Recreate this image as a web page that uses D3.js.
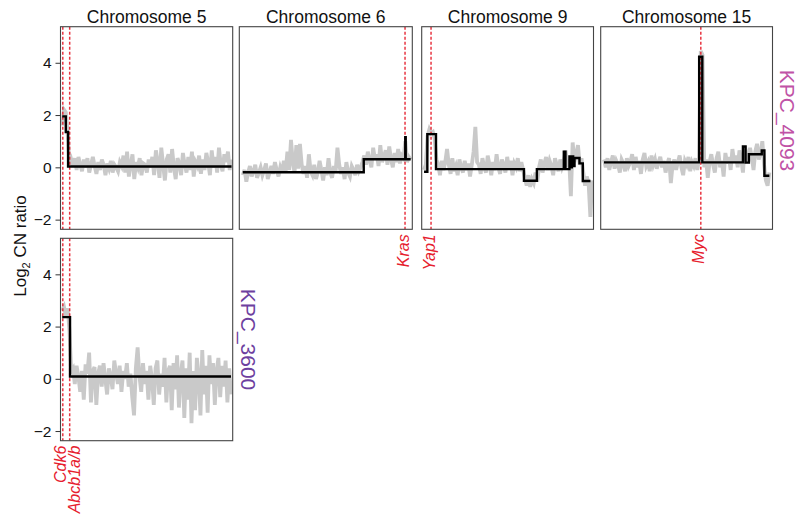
<!DOCTYPE html>
<html><head><meta charset="utf-8">
<script src="https://cdn.jsdelivr.net/npm/d3@7"></script>
<style>body{margin:0;background:#fff}svg{display:block}</style>
</head><body><svg id="c" width="801" height="525"></svg>
<script>
// ---------------- data ----------------
const chromosomes = ["Chromosome 5", "Chromosome 6", "Chromosome 9", "Chromosome 15"];
const chromLengthMb = [150, 150, 125, 104];
const samples = ["KPC_4093", "KPC_3600"];
const yTicks = [-2, 0, 2, 4];

// binned log2 CN ratios (gray), first/last bin position in Mb
const range_4093_chr5 = [1.5, 149];
const cn_4093_chr5 = [1.6, 2.2, 2.1, 1.3, 0.1,
  0.3, 0.05, 0.35, -0.1, 0.4, 0.1, -0.15, 0.3, 0.0, 0.35, -0.2, 0.1, 0.4, 0.05, -0.25, 0.2, -0.1, 0.3, 0.1, -0.3, 0.15, -0.05, 0.25, -0.2, 0.1, 0.0, -0.15, 0.2,
  0.05, 0.45, -0.2, 0.6, -0.35, 0.1, 0.5, -0.45, 0.2, 0.0, 0.35, -0.3, 0.15, 0.1, -0.2, 0.3, 0.0,
  0.4, -0.3, 0.65, 0.2, -0.4, 0.75, 0.1, -0.5, 0.3, 0.5, -0.2, 0.7, 0.0, -0.45, 0.35, 0.15, -0.3, 0.55, 0.1, -0.2, 0.4, -0.1, 0.6, -0.35, 0.2, 0.05, 0.45, -0.25,
  0.3, -0.1, 0.55, 0.2, -0.3, 0.65, 0.0, 0.4, -0.2, 0.75, 0.1, -0.15, 0.5, 0.2, 0.6, -0.1, 0.3];

const range_4093_chr6 = [3.0, 148.6];
const cn_4093_chr6 = [-0.3, -0.1, -0.55, -0.2, 0.05, -0.35, -0.15, 0.1, -0.4, -0.2, 0.0, -0.3, -0.1, 0.15, -0.45, -0.2, 0.05, -0.25, 0.2, -0.1, -0.35, 0.0, -0.2, 0.25, -0.15,
  0.6, -0.1, 1.05, 0.2, -0.2, 0.85, -0.05, 0.9, 0.1,
  -0.25, 0.05, -0.4, 0.5, -0.15, -0.3, 0.1, -0.45, -0.2, 0.25, -0.1, -0.5, 0.0, -0.3, 0.35, -0.2, -0.4, 0.05, -0.15,
  0.75, 0.1,
  -0.25, 0.0, -0.45, 0.2, -0.2, -0.35, 0.05, -0.1, -0.3, 0.1, -0.15, 0.0,
  0.2, 0.45, 0.1, 0.6, 0.25, 0.0, 0.75, 0.3, 0.5, 0.05, 0.85, 0.2, 0.4, 0.65, 0.1, 0.8, 0.3, 0.0, 0.55, 0.2, 0.7, 0.15, 0.45, 0.35, 1.0, 0.2, 0.4, 0.3];

const range_4093_chr9 = [1.7, 124.0];
const cn_4093_chr9 = [-0.1, 0.1,
  1.2, 1.45, 1.3, 1.35, 1.1, 0.3,
  0.1, -0.3, 0.25, -0.1, 0.2, 0.7, 0.1, -0.25, 0.35, -0.15, 0.05, -0.3, 0.3, 0.0, -0.2, 0.25, -0.1, 0.15, -0.35, 0.1, 0.6, 1.55, 0.2,
  0.1, -0.25, 0.35, 0.0, -0.2, 0.45, 0.1, -0.3, 0.2, -0.1, 0.5, 0.0, -0.25, 0.3, 0.1, -0.2, 0.4, -0.05, 0.25, -0.3, 0.15, 0.0, 0.35, -0.15, 0.2, -0.1,
  -0.4, -0.7, -0.3, -0.75, -0.45, -0.6, -0.2, -0.55,
  0.0, 0.3, -0.2, 0.15, 0.4, -0.1, 0.25, 0.05, -0.3, 0.35, 0.1, -0.15, 0.3, 0.0, 0.2,
  0.65, 0.0, 0.3, -1.1, 0.95, 0.2, 0.5, 0.85, 0.1, 0.35, -0.2, -0.7, -0.35, -0.6, -1.9, -0.5];

const range_4093_chr15 = [2.0, 102.1];
const cn_4093_chr15 = [0.3, 0.0, 0.35, -0.1, 0.2, 0.45, -0.05, 0.25, 0.1, -0.2, 0.3, 0.15, -0.15, 0.35, 0.05, 0.2, 0.5, -0.1, 0.4, 0.0, 0.25, -0.25, 0.3, 0.55, 0.05, 0.2, -0.15, 0.45, 0.1, 0.3, -0.05, 0.2, 0.4, 0.0, 0.25, -0.2, 0.15, 0.35, -0.6, 0.1, 0.3, -0.1, 0.2, 0.45, 0.0, -0.3, 0.25, 0.1, 0.4, -0.15, 0.2, 0.05, 0.35, -0.1, 0.3,
  4.45, 4.3,
  0.0, 0.3, -0.4, 0.2, 0.5, 0.1, -0.2, 0.35, 0.6, 0.0, 0.25, -0.35, 0.55, 0.15, 0.4, -0.1, 0.7, 0.2, 0.45, 0.0, 0.65, 0.3, -0.2, 0.8, 0.5,
  0.2, 0.75, 0.4, -0.1, 0.6, 0.9, 0.3, 0.55, 1.0, 0.1, -0.5, -0.7, -0.2];

const range_3600_chr5 = [1.5, 148.5];
const cn_3600_chr5 = [2.6, 2.75, 2.4, 2.7, 1.9, 0.3,
  0.4, -0.2, 0.5, 0.1, -0.5, 0.3, -0.8, 0.55, 0.2, 1.0, -0.9, 0.3, 0.45, -1.0, 0.2,
  0.5, -0.3, 0.6, 0.0, -0.6, 0.4, 0.1, -0.4, 0.7, 0.2, -0.2, 0.5, -0.5, 0.3, 0.0, 0.6, -0.3, 0.2, -0.7, -1.4,
  0.4, 1.2, 0.1, -0.5, 0.6, -0.2, 0.3, -0.8, 0.5, 0.0, -1.0, 0.4, 0.7, -0.6, 0.2, -0.3, 0.8, -0.9, 0.3, 0.5,
  -1.2, 0.6, -0.4, 0.9, -1.1, 0.2, 0.7, -1.5, 0.4, -0.8, 1.0, -1.7, 0.3, -1.2, 0.8, 0.1, -1.4, 1.1, -0.6, 0.5, -1.3, 0.9, -0.2, 0.6, -1.0, 0.3, 0.8, -0.7, 0.5, -0.3, 0.7, -0.9, 0.4, -0.6];

// segmented calls (black): [start Mb, end Mb, log2 ratio]
const seg_4093_chr5 = [[1.5, 4.6, 1.95], [4.6, 6.6, 1.35], [6.6, 149, 0.03]];
const seg_4093_chr6 = [[3.0, 107.9, -0.19], [107.9, 143.9, 0.31], [143.9, 144.3, 1.15], [144.3, 148.6, 0.31]];
const seg_4093_chr9 = [[1.7, 4.1, -0.17], [4.1, 10.4, 1.27], [10.4, 74.4, -0.07], [74.4, 83.8, -0.51], [83.8, 103.4, -0.07],
  [103.4, 104.6, 0.6], [104.6, 107.5, -0.07], [107.5, 108.4, 0.42], [108.4, 109.2, 0.0], [109.2, 110.2, 0.42],
  [110.2, 111.2, 0.05], [111.2, 114.8, 0.36], [114.8, 117.2, 0.15], [117.2, 122.8, -0.52]];
const seg_4093_chr15 = [[2.0, 59.6, 0.19], [59.6, 61.5, 4.23], [61.5, 86.1, 0.19], [86.1, 87.7, 0.8], [87.7, 89.7, 0.18],
  [89.7, 97.5, 0.5], [97.5, 99.1, 0.65], [99.1, 102.1, -0.32]];
const seg_3600_chr5 = [[1.5, 8.3, 2.36], [8.3, 148.5, 0.09]];

// genes of interest
const geneNames = ["Cdk6", "Abcb1a/b", "Kras", "Yap1", "Myc"];
const geneChrom = ["Chromosome 5", "Chromosome 5", "Chromosome 6", "Chromosome 9", "Chromosome 15"];
const genePosMb = [2.0, 8.0, 143.7, 6.8, 60.6];

// ---------------- layout ----------------
const colX = [[60.5, 232.7], [239.3, 412.3], [421.7, 593.5], [600.7, 772.5]];
const rowY = [[26.7, 229.3], [238.3, 440.7]];
const yDomain = [-2.37, 5.38];
const sampleColor = ["#c052a6", "#6d3fa0"];
const red = "#e6202e";

const panels = [
  {row: 0, col: 0, cn: cn_4093_chr5, range: range_4093_chr5, seg: seg_4093_chr5},
  {row: 0, col: 1, cn: cn_4093_chr6, range: range_4093_chr6, seg: seg_4093_chr6},
  {row: 0, col: 2, cn: cn_4093_chr9, range: range_4093_chr9, seg: seg_4093_chr9},
  {row: 0, col: 3, cn: cn_4093_chr15, range: range_4093_chr15, seg: seg_4093_chr15},
  {row: 1, col: 0, cn: cn_3600_chr5, range: range_3600_chr5, seg: seg_3600_chr5}
];

const svg = d3.select("#c");
svg.append("rect").attr("width", 801).attr("height", 525).attr("fill", "#fff");
const font = "Liberation Sans, Arial, Helvetica, sans-serif";

panels.forEach((p, k) => {
  const x = d3.scaleLinear().domain([0, chromLengthMb[p.col]]).range(colX[p.col]);
  const y = d3.scaleLinear().domain(yDomain).range([rowY[p.row][1], rowY[p.row][0]]);
  const g = svg.append("g");
  const cid = "clip" + k;
  svg.append("clipPath").attr("id", cid).append("rect")
    .attr("x", colX[p.col][0]).attr("y", rowY[p.row][0])
    .attr("width", colX[p.col][1] - colX[p.col][0]).attr("height", rowY[p.row][1] - rowY[p.row][0]);
  const inner = g.append("g").attr("clip-path", `url(#${cid})`);

  const n = p.cn.length;
  const pts = p.cn.map((v, i) => [p.range[0] + i * (p.range[1] - p.range[0]) / (n - 1), v]);
  const line = d3.line().x(d => x(d[0])).y(d => y(d[1]));
  inner.append("path").attr("d", line(pts)).attr("fill", "none")
    .attr("stroke", "#c9c9c9").attr("stroke-width", 3.8).attr("stroke-linejoin", "miter");

  // gene lines
  const chromName = chromosomes[p.col];
  geneNames.forEach((gname, gi) => {
    if (geneChrom[gi] !== chromName) return;
    inner.append("line").attr("x1", x(genePosMb[gi])).attr("x2", x(genePosMb[gi]))
      .attr("y1", rowY[p.row][0]).attr("y2", rowY[p.row][1])
      .attr("stroke", red).attr("stroke-width", 1.5).attr("stroke-dasharray", "3,2").attr("opacity", 0.9);
  });

  const spts = [];
  p.seg.forEach(s => { spts.push([s[0], s[2]]); spts.push([s[1], s[2]]); });
  inner.append("path").attr("d", line(spts)).attr("fill", "none")
    .attr("stroke", "#000").attr("stroke-width", 2.4).attr("stroke-linejoin", "miter");

  g.append("rect").attr("x", colX[p.col][0]).attr("y", rowY[p.row][0])
    .attr("width", colX[p.col][1] - colX[p.col][0]).attr("height", rowY[p.row][1] - rowY[p.row][0])
    .attr("fill", "none").attr("stroke", "#444").attr("stroke-width", 1.1);

  if (p.col === 0) {
    const ax = g.append("g").attr("transform", `translate(${colX[0][0]},0)`)
      .call(d3.axisLeft(y).tickValues(yTicks).tickSize(5).tickPadding(4));
    ax.select(".domain").remove();
    ax.selectAll(".tick line").attr("stroke", "#333");
    ax.selectAll(".tick text").attr("font-size", 15.5).attr("font-family", font).attr("fill", "#111");
  }
  if (p.row === 0) {
    svg.append("text").attr("x", (colX[p.col][0] + colX[p.col][1]) / 2).attr("y", 22.5)
      .attr("text-anchor", "middle").attr("font-family", font).attr("font-size", 17.5).attr("fill", "#111")
      .text(chromName);
  }
});

// gene labels below the lowest panel in each column
colX.forEach((cx, c) => {
  const lowestRow = d3.max(panels.filter(p => p.col === c), p => p.row);
  const x = d3.scaleLinear().domain([0, chromLengthMb[c]]).range(cx);
  let prev = -Infinity;
  geneNames.forEach((gname, gi) => {
    if (geneChrom[gi] !== chromosomes[c]) return;
    let lx = Math.max(x(genePosMb[gi]) + 3.5, prev + 13.5);
    prev = lx;
    svg.append("text").attr("transform", `translate(${lx},${rowY[lowestRow][1] + 5}) rotate(-90)`)
      .attr("text-anchor", "end").attr("font-family", font).attr("font-size", 16)
      .attr("font-style", "italic").attr("fill", red).text(gname);
  });
});

// sample labels
svg.append("text").attr("transform", `translate(780,120.5) rotate(90)`)
  .attr("text-anchor", "middle").attr("font-family", font).attr("font-size", 21)
  .attr("fill", sampleColor[0]).text(samples[0]);
svg.append("text").attr("transform", `translate(241,339.5) rotate(90)`)
  .attr("text-anchor", "middle").attr("font-family", font).attr("font-size", 21)
  .attr("fill", sampleColor[1]).text(samples[1]);

// y axis label
const yl = svg.append("text").attr("transform", "translate(26,246) rotate(-90)")
  .attr("text-anchor", "middle").attr("font-family", font).attr("font-size", 17).attr("fill", "#111");
yl.append("tspan").text("Log");
yl.append("tspan").attr("font-size", 11).attr("dy", 4).text("2");
yl.append("tspan").attr("dy", -4).text(" CN ratio");
</script></body></html>
